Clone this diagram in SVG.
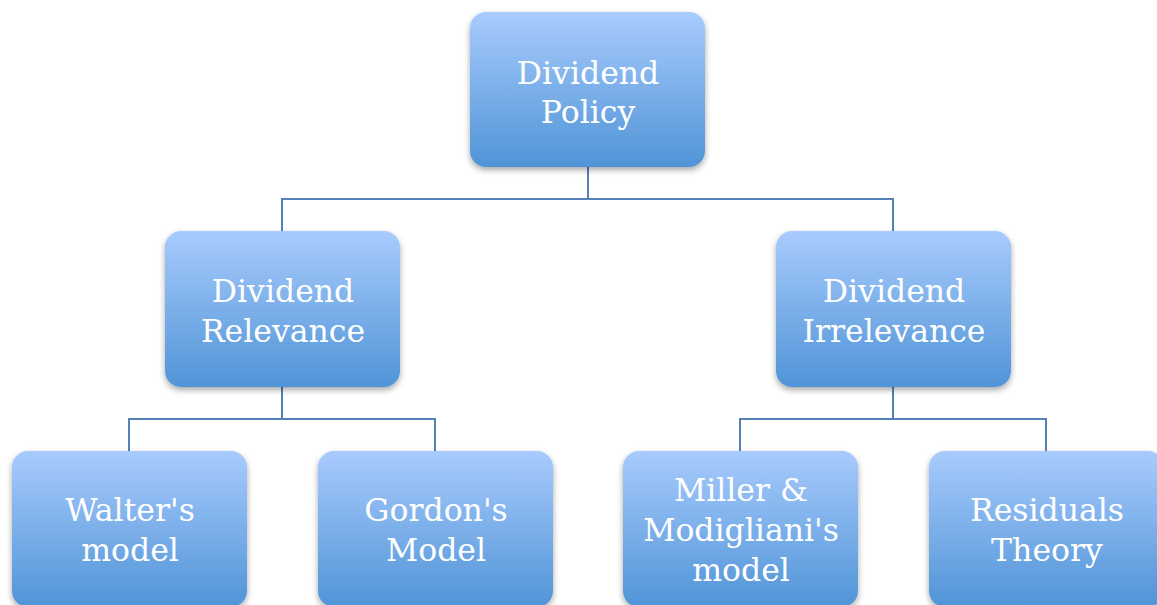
<svg xmlns="http://www.w3.org/2000/svg" width="1157" height="605" viewBox="0 0 1157 605">
<defs>
<linearGradient id="g" x1="0" y1="0" x2="0" y2="1">
<stop offset="0" stop-color="#a8cbfd"/>
<stop offset="1" stop-color="#5094d7"/>
</linearGradient>
<filter id="sh" x="-10%" y="-10%" width="120%" height="125%">
<feGaussianBlur in="SourceAlpha" stdDeviation="3"/>
<feOffset dx="0" dy="3" result="b"/>
<feComponentTransfer><feFuncA type="linear" slope="0.35"/></feComponentTransfer>
<feMerge><feMergeNode/><feMergeNode in="SourceGraphic"/></feMerge>
</filter>
</defs>
<style>
.box{fill:url(#g);filter:url(#sh)}
.t{font-family:"DejaVu Serif","Liberation Serif",serif;font-size:31.5px;fill:#ffffff;text-anchor:middle}
.c{fill:none;stroke:#5582b6;stroke-width:2}
</style>
<rect width="1157" height="605" fill="#ffffff"/>
<g id="connectors">
<path class="c" d="M588 167V199M282 231V199H893V231"/>
<path class="c" d="M282 387V419M129 451V419H435V451"/>
<path class="c" d="M893 387V419M740 451V419H1046V451"/>
</g>
<g id="n-policy"><rect class="box" x="470" y="12" width="235" height="155" rx="16"/><text class="t" x="588" y="84">Dividend</text><text class="t" x="588" y="123">Policy</text></g>
<g id="n-relevance"><rect class="box" x="165" y="231" width="235" height="156" rx="16"/><text class="t" x="283" y="302">Dividend</text><text class="t" x="283" y="342">Relevance</text></g>
<g id="n-irrelevance"><rect class="box" x="776" y="231" width="235" height="156" rx="16"/><text class="t" x="894" y="302">Dividend</text><text class="t" x="894" y="342">Irrelevance</text></g>
<g id="n-walter"><rect class="box" x="12" y="451" width="235" height="156" rx="16"/><text class="t" x="130" y="521">Walter's</text><text class="t" x="130" y="561">model</text></g>
<g id="n-gordon"><rect class="box" x="318" y="451" width="235" height="156" rx="16"/><text class="t" x="436" y="521">Gordon's</text><text class="t" x="436" y="561">Model</text></g>
<g id="n-mm"><rect class="box" x="623" y="451" width="235" height="156" rx="16"/><text class="t" x="741" y="501">Miller &amp;</text><text class="t" x="741" y="541">Modigliani's</text><text class="t" x="741" y="581">model</text></g>
<g id="n-residuals"><rect class="box" x="929" y="451" width="235" height="156" rx="16"/><text class="t" x="1047" y="521">Residuals</text><text class="t" x="1047" y="561">Theory</text></g>
</svg>
